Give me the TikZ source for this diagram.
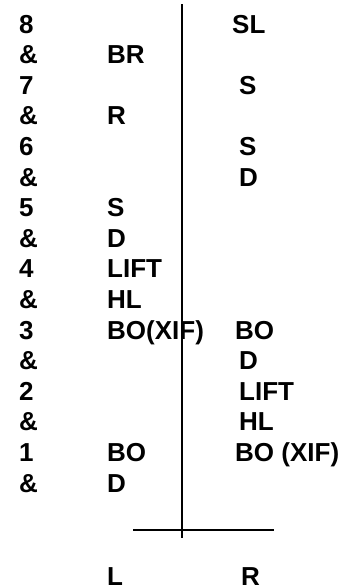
\documentclass[tikz,border=0pt]{standalone}
\usepackage{fontspec}
\setmainfont{Liberation Sans}
\tikzset{
  lbl/.style={anchor=base west, inner sep=0pt, font=\fontsize{26}{26}\selectfont\bfseries},
  axis/.style={line width=2pt, black}
}
\begin{document}
\begin{tikzpicture}[x=1pt,y=-1pt]
\useasboundingbox (0,0) rectangle (357,587);
% numbers column
\node[lbl] (n8) at (19,33) {8};
\node[lbl] (a8) at (19,63.6) {\&};
\node[lbl] (n7) at (19,94.2) {7};
\node[lbl] (a7) at (19,124.8) {\&};
\node[lbl] (n6) at (19,155.4) {6};
\node[lbl] (a6) at (19,186) {\&};
\node[lbl] (n5) at (19,216.6) {5};
\node[lbl] (a5) at (19,247.2) {\&};
\node[lbl] (n4) at (19,277.8) {4};
\node[lbl] (a4) at (19,308.4) {\&};
\node[lbl] (n3) at (19,339) {3};
\node[lbl] (a3) at (19,369.6) {\&};
\node[lbl] (n2) at (19,400.2) {2};
\node[lbl] (a2) at (19,430.8) {\&};
\node[lbl] (n1) at (19,461.4) {1};
\node[lbl] (a1) at (19,492) {\&};
% left column
\node[lbl] (lBR) at (107,63.6) {BR};
\node[lbl] (lR) at (107,124.8) {R};
\node[lbl] (lS) at (107,216.6) {S};
\node[lbl] (lD1) at (107,247.2) {D};
\node[lbl] (lLIFT) at (107,277.8) {LIFT};
\node[lbl] (lHL) at (107,308.4) {HL};
\node[lbl] (lBOX) at (107,339) {BO(XIF)};
\node[lbl] (lBO) at (107,461.4) {BO};
\node[lbl] (lD2) at (107,492) {D};
% right column
\node[lbl] (rSL) at (232,33) {SL};
\node[lbl] (rS1) at (239,94.2) {S};
\node[lbl] (rS2) at (239,155.4) {S};
\node[lbl] (rD1) at (239,186) {D};
\node[lbl] (rBO) at (235,339) {BO};
\node[lbl] (rD2) at (239,369.6) {D};
\node[lbl] (rLIFT) at (239,400.2) {LIFT};
\node[lbl] (rHL) at (239,430.8) {HL};
\node[lbl] (rBOX) at (235,461.4) {BO (XIF)};
% axis labels
\node[lbl] (L) at (107,585.5) {L};
\node[lbl] (R) at (241,585.5) {R};
% axes
\coordinate (vtop) at (182,4);
\coordinate (vbot) at (182,538);
\coordinate (hl) at (133,530);
\coordinate (hr) at (274,530);
\draw[axis] (vtop) -- (vbot);
\draw[axis] (hl) -- (hr);
\end{tikzpicture}
\end{document}
